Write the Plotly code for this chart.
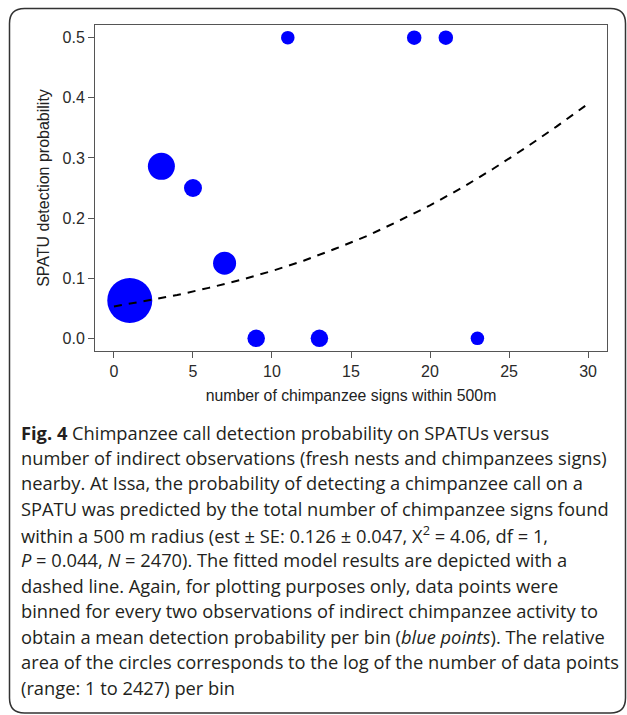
import plotly.graph_objects as go

# ---- data ----
bin_signs = [1, 3, 5, 7, 9, 11, 13, 19, 21, 23]
bin_detect_prob = [0.063, 0.286, 0.25, 0.125, 0.0, 0.5, 0.0, 0.5, 0.5, 0.0]

fit_signs = [0, 2, 4, 6, 8, 10, 12, 14, 16, 18, 20, 22, 24, 26, 28, 30]
fit_prob = [0.053, 0.062, 0.072, 0.084, 0.097, 0.112, 0.129, 0.149,
            0.170, 0.195, 0.221, 0.250, 0.282, 0.316, 0.352, 0.390]

x_ticks = [0, 5, 10, 15, 20, 25, 30]
y_ticks = [0.0, 0.1, 0.2, 0.3, 0.4, 0.5]

caption_lines = [
    "<b>Fig. 4</b> Chimpanzee call detection probability on SPATUs versus",
    "number of indirect observations (fresh nests and chimpanzees signs)",
    "nearby. At Issa, the probability of detecting a chimpanzee call on a",
    "SPATU was predicted by the total number of chimpanzee signs found",
    "within a 500 m radius (est ± SE: 0.126 ± 0.047, X<sup>2</sup> = 4.06, df = 1,",
    "<i>P</i> = 0.044, <i>N</i> = 2470). The fitted model results are depicted with a",
    "dashed line. Again, for plotting purposes only, data points were",
    "binned for every two observations of indirect chimpanzee activity to",
    "obtain a mean detection probability per bin (<i>blue points</i>). The relative",
    "area of the circles corresponds to the log of the number of data points",
    "(range: 1 to 2427) per bin",
]

# ---- styles ----
circle_diam_px = [45, 27, 18, 23, 17.5, 13.5, 17.5, 14.5, 14.5, 13.5]

W, H = 627, 715
L, R, T, B = 95, 20, 25, 364
pw, ph = W - L - R, H - T - B


def px_to_paper_x(px):
    return (px - L) / pw


def px_to_paper_y(py):
    return (H - B - py) / ph


fig = go.Figure()

fig.add_trace(go.Scatter(
    x=bin_signs, y=bin_detect_prob, mode="markers",
    marker=dict(color="#0000FF", size=circle_diam_px, line=dict(width=0), opacity=1),
    showlegend=False, cliponaxis=False,
))

fig.add_trace(go.Scatter(
    x=fit_signs, y=fit_prob, mode="lines",
    line=dict(color="black", width=2, dash="8px,7px"),
    hoverinfo="skip", showlegend=False,
))

axis_common = dict(
    showline=True, mirror=True, linecolor="#555555", linewidth=1,
    ticks="outside", ticklen=6, tickcolor="#555555", tickwidth=1,
    showgrid=False, zeroline=False,
    tickfont=dict(family="Liberation Sans, Arial", size=16, color="#2a2a2a"),
)

fig.update_xaxes(
    range=[-1.2, 31.2], tickvals=x_ticks, ticktext=[str(v) for v in x_ticks],
    title=dict(text="number of chimpanzee signs within 500m",
               font=dict(family="Liberation Sans, Arial", size=15.8, color="#222222"),
               standoff=10),
    **axis_common,
)
fig.update_yaxes(
    range=[-0.021, 0.521], tickvals=y_ticks, ticktext=[f"{v:.1f}" for v in y_ticks],
    title=dict(text="SPATU detection probability",
               font=dict(family="Liberation Sans, Arial", size=16, color="#222222"),
               standoff=8),
    **axis_common,
)

# rounded border around the whole figure
x0, x1 = px_to_paper_x(9.5), px_to_paper_x(625.5)
y0, y1 = px_to_paper_y(713), px_to_paper_y(8.5)
rx, ry = 15 / pw, 15 / ph
path = (f"M {x0 + rx} {y1} L {x1 - rx} {y1} Q {x1} {y1} {x1} {y1 - ry} "
        f"L {x1} {y0 + ry} Q {x1} {y0} {x1 - rx} {y0} "
        f"L {x0 + rx} {y0} Q {x0} {y0} {x0} {y0 + ry} "
        f"L {x0} {y1 - ry} Q {x0} {y1} {x0 + rx} {y1} Z")
fig.add_shape(type="path", path=path, xref="paper", yref="paper",
              line=dict(color="#333333", width=1.5), fillcolor="rgba(0,0,0,0)")

line_top, line_gap = 432, 25.5
for i, txt in enumerate(caption_lines):
    fig.add_annotation(
        text=txt, xref="paper", yref="paper",
        x=px_to_paper_x(19), y=px_to_paper_y(line_top + i * line_gap),
        xanchor="left", yanchor="middle", showarrow=False, align="left",
        font=dict(family="Open Sans", size=18.3, color="#231f20"),
    )

fig.update_layout(
    width=W, height=H, margin=dict(l=L, r=R, t=T, b=B),
    paper_bgcolor="white", plot_bgcolor="white",
)

fig.write_html("out.html", config={"displayModeBar": False},
               post_script="document.body.style.margin='0px';document.body.style.overflow='hidden';")
